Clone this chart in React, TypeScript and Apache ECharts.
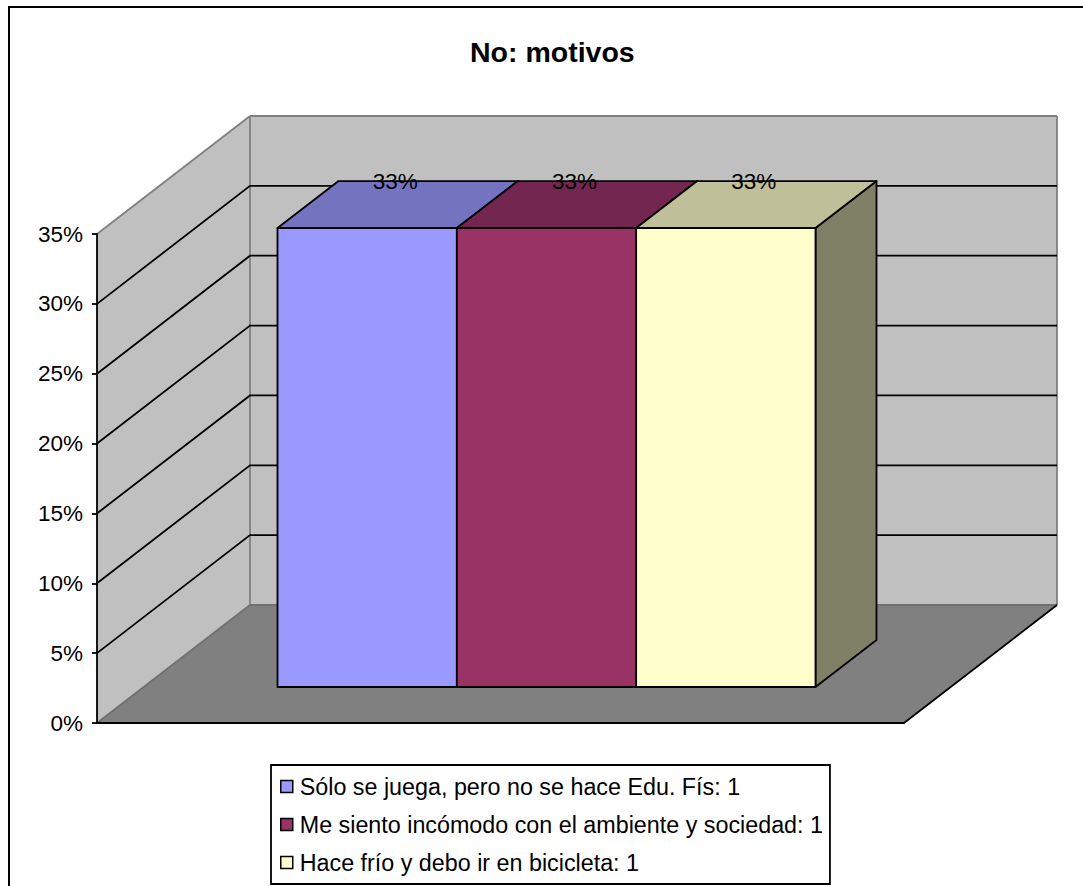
import React, { useEffect, useRef } from "react";
import * as echarts from "echarts";

const titleText = "No: motivos";
const categories = ["No: motivos"];
const seriesNames = [
  "Sólo se juega, pero no se hace Edu. Fís: 1",
  "Me siento incómodo con el ambiente y sociedad: 1",
  "Hace frío y debo ir en bicicleta: 1",
];
const seriesValues = [0.3285, 0.3285, 0.3285];
const frontColors = ["#9999FF", "#993366", "#FFFFCC"];
const topColors = ["#7373BF", "#732650", "#BFBF99"];
const sideColors = ["#73738F", "#4D1A33", "#808066"];
const gridTicks = [0.05, 0.1, 0.15, 0.2, 0.25, 0.3];
const axisMax = 0.35;
const axisStep = 0.05;

const FONT = '"Liberation Sans", Arial, sans-serif';
const DEPTH_X = 153;
const DEPTH_Y = -118;
const BAR_DX = 61;
const BAR_DY = -47;
const INSET_X = 46;
const INSET_Y = -36;
const BLACK = "#000000";
const GRAY = "#808080";
const LINE = 1.8;

function pct(v: number) {
  return Math.round(v * 100) + "%";
}

function plotBox(api: any) {
  const band = api.size([1, 0])[0];
  const center = api.coord([0, 0])[0];
  return { band, center, left: center - band / 2, right: center + band / 2 };
}

function renderWalls(_p: any, api: any) {
  const { left, right } = plotBox(api);
  const y0 = api.coord([0, 0])[1];
  const yTop = api.coord([0, axisMax])[1];
  const bx = left + DEPTH_X;
  const brx = right + DEPTH_X;
  const poly = (points: number[][], fill: string) => ({
    type: "polygon",
    shape: { points },
    style: { fill, stroke: "none" },
  });
  const line = (a: number[], b: number[], stroke: string) => ({
    type: "line",
    shape: { x1: a[0], y1: a[1], x2: b[0], y2: b[1] },
    style: { stroke, lineWidth: LINE },
  });
  return {
    type: "group",
    children: [
      poly([[left, y0], [left, yTop], [bx, yTop + DEPTH_Y], [bx, y0 + DEPTH_Y]], "#C0C0C0"),
      poly([[bx, yTop + DEPTH_Y], [brx, yTop + DEPTH_Y], [brx, y0 + DEPTH_Y], [bx, y0 + DEPTH_Y]], "#C0C0C0"),
      poly([[left, y0], [right, y0], [brx, y0 + DEPTH_Y], [bx, y0 + DEPTH_Y]], GRAY),
      line([left, yTop], [bx, yTop + DEPTH_Y], GRAY),
      line([bx, yTop + DEPTH_Y], [brx, yTop + DEPTH_Y], GRAY),
      line([brx, yTop + DEPTH_Y], [brx, y0 + DEPTH_Y], GRAY),
      line([bx, yTop + DEPTH_Y], [bx, y0 + DEPTH_Y], GRAY),
      line([left, y0], [bx, y0 + DEPTH_Y], "#707070"),
      line([bx, y0 + DEPTH_Y], [brx, y0 + DEPTH_Y], "#707070"),
      line([right, y0], [brx, y0 + DEPTH_Y], BLACK),
    ],
  };
}

function renderGridline(_p: any, api: any) {
  const { left, right } = plotBox(api);
  const y = api.coord([0, api.value(1)])[1];
  const points = [
    [left, y],
    [left + DEPTH_X, y + DEPTH_Y],
    [right + DEPTH_X, y + DEPTH_Y],
  ];
  return {
    type: "polyline",
    shape: { points },
    style: { fill: "none", stroke: BLACK, lineWidth: LINE },
  };
}

function makeBarRenderer(i: number) {
  return (_p: any, api: any) => {
    const { band, center } = plotBox(api);
    const w = band / 4.5;
    const x0 = center + INSET_X + (i - 1.5) * w;
    const x1 = x0 + w;
    const yb = api.coord([0, 0])[1] + INSET_Y;
    const value = api.value(1) as number;
    const yt = api.coord([0, value])[1] + INSET_Y;
    const face = (points: number[][], fill: string) => ({
      type: "polygon",
      shape: { points },
      style: { fill, stroke: BLACK, lineWidth: LINE, lineJoin: "round" },
    });
    return {
      type: "group",
      children: [
        face([[x1, yb], [x1 + BAR_DX, yb + BAR_DY], [x1 + BAR_DX, yt + BAR_DY], [x1, yt]], sideColors[i]),
        face([[x0, yt], [x1, yt], [x1 + BAR_DX, yt + BAR_DY], [x0 + BAR_DX, yt + BAR_DY]], topColors[i]),
        face([[x0, yb], [x1, yb], [x1, yt], [x0, yt]], frontColors[i]),
        {
          type: "text",
          style: {
            x: x0 + w / 2 + 28,
            y: yt + BAR_DY,
            text: pct(value),
            fill: "#000000",
            font: `22.5px ${FONT}`,
            align: "center",
            verticalAlign: "middle",
          },
        },
      ],
    };
  };
}

export default function App() {
  const ref = useRef<HTMLDivElement>(null);
  useEffect(() => {
    if (!ref.current) return;
    const chart = echarts.init(ref.current, undefined, { renderer: "svg" });
    chart.setOption({
      animation: false,
      backgroundColor: "#FFFFFF",
      title: {
        text: titleText,
        left: 470,
        top: 37,
        padding: 0,
        textStyle: { fontFamily: FONT, fontWeight: "bold", fontSize: 28.5, color: "#000000" },
      },
      legend: {
        orient: "vertical",
        left: 271,
        top: 765,
        data: seriesNames,
        icon: "rect",
        itemWidth: 12,
        itemHeight: 12,
        itemGap: 15,
        padding: [10, 7, 10, 9],
        backgroundColor: "#FFFFFF",
        borderColor: "#000000",
        borderWidth: 1.8,
        selectedMode: false,
        itemStyle: { borderColor: "#000000", borderWidth: 1.5 },
        textStyle: { fontFamily: FONT, fontSize: 23.3, color: "#000000", padding: [0, 0, 0, 2] },
      },
      grid: { left: 97, top: 234, width: 807, height: 489, containLabel: false },
      xAxis: {
        type: "category",
        data: categories,
        z: 10,
        axisLine: { show: true, lineStyle: { color: BLACK, width: LINE } },
        axisTick: { show: false },
        axisLabel: { show: false },
      },
      yAxis: {
        type: "value",
        min: 0,
        max: axisMax,
        interval: axisStep,
        z: 10,
        axisLine: { show: true, lineStyle: { color: BLACK, width: LINE } },
        axisTick: { show: true, length: 5, lineStyle: { color: BLACK, width: LINE } },
        splitLine: { show: false },
        axisLabel: {
          formatter: (v: number) => pct(v),
          fontFamily: FONT,
          fontSize: 22.5,
          color: "#000000",
          margin: 14,
          padding: [3, 0, 0, 0],
        },
      },
      graphic: [
        {
          type: "polyline",
          shape: { points: [[9, 886], [9, 7], [1083, 7]] },
          style: { fill: "none", stroke: "#000000", lineWidth: 2 },
          z: 20,
        },
      ],
      series: [
        {
          type: "custom",
          name: "walls",
          coordinateSystem: "cartesian2d",
          renderItem: renderWalls,
          data: [[0, 0]],
          z: 2,
          silent: true,
        },
        {
          type: "custom",
          name: "gridlines",
          coordinateSystem: "cartesian2d",
          renderItem: renderGridline,
          data: gridTicks.map((t) => [0, t]),
          z: 3,
          silent: true,
        },
        ...seriesNames.map((name, i) => ({
          type: "custom",
          name,
          coordinateSystem: "cartesian2d",
          renderItem: makeBarRenderer(i),
          data: [[0, seriesValues[i]]],
          encode: { x: 0, y: 1 },
          itemStyle: { color: frontColors[i] },
          z: 4,
        })),
      ],
    });
    return () => chart.dispose();
  }, []);
  return (
    <div
      ref={ref}
      style={{ position: "fixed", left: 0, top: 0, width: 1083, height: 886 }}
    />
  );
}
